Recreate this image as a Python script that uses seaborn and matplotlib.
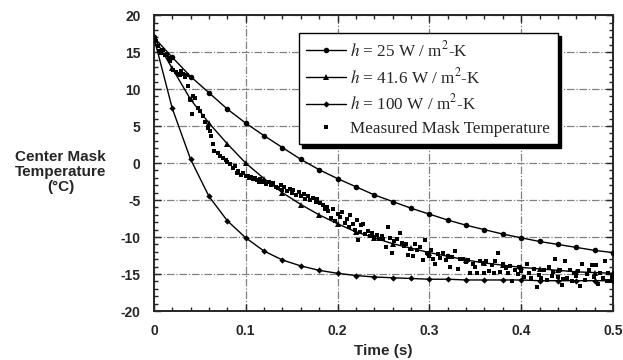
import numpy as np
import pandas as pd
import seaborn as sns
import matplotlib.pyplot as plt
from matplotlib.lines import Line2D
from matplotlib.ticker import MultipleLocator, FuncFormatter

# model time steps (s)
t_model = [0.00, 0.02, 0.04, 0.06, 0.08, 0.10, 0.12, 0.14, 0.16, 0.18,
           0.20, 0.22, 0.24, 0.26, 0.28, 0.30, 0.32, 0.34, 0.36, 0.38,
           0.40, 0.42, 0.44, 0.46, 0.48, 0.50]

h25 = [17.0, 14.3, 11.7, 9.5, 7.3, 5.4, 3.7, 2.1, 0.5, -0.9,
       -2.1, -3.2, -4.3, -5.2, -6.1, -6.9, -7.7, -8.4, -9.0, -9.6,
       -10.1, -10.6, -11.0, -11.4, -11.8, -12.1]
h41 = [17.0, 12.8, 8.6, 5.4, 2.6, 0.0, -2.1, -4.0, -5.6, -7.0,
       -8.2, -9.3, -10.1, -10.9, -11.5, -12.1, -12.6, -13.1, -13.5, -13.8,
       -14.1, -14.3, -14.5, -14.7, -14.8, -14.9]
h100 = [17.0, 7.4, 0.5, -4.5, -7.8, -10.1, -11.9, -13.1, -13.9, -14.5,
        -14.9, -15.2, -15.4, -15.5, -15.6, -15.7, -15.7, -15.8, -15.8, -15.8,
        -15.8, -15.9, -15.9, -15.9, -15.9, -15.9]

# measured mask temperature
meas_t = [0.002, 0.004, 0.006, 0.008, 0.010, 0.012, 0.014, 0.016, 0.018, 0.021,
          0.024, 0.026, 0.028, 0.030, 0.032, 0.034, 0.036, 0.037, 0.039, 0.041,
          0.043, 0.045, 0.048, 0.050, 0.053, 0.056, 0.059, 0.061, 0.062, 0.064,
          0.066, 0.070, 0.072, 0.075, 0.078, 0.080, 0.083, 0.086, 0.088, 0.090,
          0.092, 0.095, 0.097, 0.100, 0.102, 0.104, 0.106, 0.108, 0.110, 0.112,
          0.114, 0.116, 0.118, 0.120, 0.122, 0.125, 0.128, 0.130, 0.133, 0.135,
          0.138, 0.140, 0.142, 0.145, 0.148, 0.150, 0.152, 0.155, 0.158, 0.160,
          0.163, 0.165, 0.168, 0.170, 0.173, 0.176, 0.178, 0.181, 0.184, 0.186,
          0.188, 0.190, 0.193, 0.195, 0.197, 0.200, 0.203, 0.205, 0.208, 0.210,
          0.212, 0.214, 0.217, 0.219, 0.221, 0.222, 0.224, 0.226, 0.228, 0.230,
          0.233, 0.235, 0.238, 0.240, 0.243, 0.245, 0.248, 0.250, 0.253, 0.255,
          0.257, 0.259, 0.262, 0.265, 0.268, 0.270, 0.272, 0.275, 0.277, 0.279,
          0.282, 0.284, 0.287, 0.290, 0.293, 0.295, 0.297, 0.300, 0.302, 0.304,
          0.306, 0.309, 0.312, 0.315, 0.318, 0.320, 0.322, 0.325, 0.328, 0.331,
          0.333, 0.337, 0.340, 0.342, 0.344, 0.347, 0.350, 0.352, 0.355, 0.358,
          0.360, 0.362, 0.365, 0.368, 0.370, 0.372, 0.375, 0.377, 0.380, 0.383,
          0.386, 0.388, 0.390, 0.393, 0.396, 0.398, 0.400, 0.403, 0.406, 0.408,
          0.411, 0.414, 0.417, 0.419, 0.422, 0.425, 0.428, 0.430, 0.433, 0.435,
          0.437, 0.440, 0.442, 0.444, 0.446, 0.448, 0.450, 0.453, 0.455, 0.457,
          0.460, 0.462, 0.464, 0.466, 0.469, 0.472, 0.474, 0.477, 0.479, 0.481,
          0.484, 0.486, 0.489, 0.491, 0.493, 0.495, 0.497, 0.499]
meas_T = [16.5, 15.8, 15.2, 14.9, 15.3, 14.6, 14.8, 14.2, 13.8, 12.6,
          12.3, 12.0, 11.9, 12.4, 12.1, 11.7, 11.9, 10.4, 8.7, 6.6,
          9.1, 8.8, 7.4, 7.1, 6.3, 5.6, 4.8, 4.3, 3.6, 2.6,
          1.6, 1.3, 1.0, 0.7, 0.4, 0.1, -0.1, -0.6, -0.4, -1.3,
          -1.1, -1.6, -1.4, -1.8, -1.7, -2.0, -1.9, -2.2, -2.0, -2.3,
          -2.5, -2.2, -2.6, -2.4, -2.8, -2.6, -3.0, -2.7, -3.2, -3.4,
          -3.0, -3.6, -3.3, -3.8, -3.5, -4.0, -3.7, -4.3, -3.9, -4.5,
          -4.2, -4.8, -4.4, -5.0, -4.7, -5.2, -4.9, -5.4, -5.6, -6.2,
          -5.9, -6.5, -7.4, -6.2, -7.8, -6.9, -7.3, -6.6, -8.1, -7.5,
          -8.6, -7.0, -8.2, -9.0, -7.7, -10.4, -9.3, -8.4, -8.3, -9.6,
          -9.2, -9.8, -9.4, -10.0, -9.7, -10.2, -9.9, -10.3, -11.4, -8.6,
          -10.1, -12.2, -10.5, -10.2, -9.5, -10.8, -11.2, -10.9, -12.4, -11.6,
          -12.5, -11.0, -11.8, -11.3, -13.1, -10.4, -12.1, -12.6, -11.8, -12.9,
          -13.6, -12.3, -12.8, -12.2, -13.1, -12.5, -14.0, -12.7, -11.9, -14.3,
          -13.0, -12.9, -13.4, -13.1, -14.8, -13.6, -14.0, -14.8, -13.2, -13.5,
          -14.8, -13.3, -14.6, -13.8, -14.9, -13.2, -12.2, -14.7, -13.6, -14.2,
          -14.9, -13.9, -16.0, -14.4, -15.0, -14.1, -14.6, -15.4, -13.6, -14.8,
          -15.6, -14.3, -16.7, -15.1, -15.6, -14.5, -15.8, -14.0, -15.3, -14.7,
          -13.0, -15.4, -14.5, -16.5, -15.7, -13.3, -15.6, -14.4, -15.9, -14.9,
          -15.3, -14.6, -16.6, -13.6, -15.8, -15.0, -14.4, -13.8, -15.4, -13.8,
          -16.4, -14.8, -15.6, -13.3, -15.9, -14.9, -16.0, -15.4]

labels = [r"$h$ = 25 W / m$^{2}$-K",
          r"$h$ = 41.6 W / m$^{2}$-K",
          r"$h$ = 100 W / m$^{2}$-K",
          "Measured Mask Temperature"]

sns.set_style("ticks")
plt.rcParams["font.family"] = ["Liberation Sans", "DejaVu Sans"]
plt.rcParams["mathtext.fontset"] = "stix"
plt.rcParams["axes.unicode_minus"] = False

fig = plt.figure(figsize=(6.23, 3.6), dpi=100)
ax = fig.add_axes([0.247, 0.136, 0.737, 0.822])

ax.grid(True, which="major", color="#808080", linewidth=0.9,
        linestyle=(0, (6, 1.5, 1, 1.5)))

sns.lineplot(x=t_model, y=h25, ax=ax, color="k", lw=1.0, marker="o",
             markersize=4, markeredgewidth=0, zorder=3)
sns.lineplot(x=t_model, y=h41, ax=ax, color="k", lw=1.0, marker="^",
             markersize=4.5, markeredgewidth=0, zorder=3)
sns.lineplot(x=t_model, y=h100, ax=ax, color="k", lw=1.0, marker="D",
             markersize=3.2, markeredgewidth=0, zorder=3)
meas = pd.DataFrame({"t": meas_t, "T": meas_T})
sns.scatterplot(data=meas, x="t", y="T", ax=ax, color="k", marker="s",
                s=5, linewidth=0, zorder=4)

ax.set_xlim(0, 0.5)
ax.set_ylim(-20, 20)
ax.xaxis.set_major_locator(MultipleLocator(0.1))
ax.xaxis.set_minor_locator(MultipleLocator(0.02))
ax.yaxis.set_major_locator(MultipleLocator(5))
ax.yaxis.set_minor_locator(MultipleLocator(1))
ax.xaxis.set_major_formatter(FuncFormatter(lambda v, p: "0" if abs(v) < 1e-9 else f"{v:g}"))
ax.tick_params(which="both", direction="in", top=True, right=True, width=1.0)
ax.tick_params(which="major", length=5, labelsize=10)
ax.tick_params(axis="x", which="major", pad=9.5)
ax.tick_params(axis="y", which="major", pad=9.5)
ax.tick_params(which="minor", length=3)
for lbl in ax.get_xticklabels() + ax.get_yticklabels():
    lbl.set_fontweight("bold")
for sp in ax.spines.values():
    sp.set_linewidth(1.4)

ax.set_xlabel("Time (s)", fontsize=11, fontweight="bold", labelpad=4)
ax.set_ylabel("Center Mask\nTemperature\n(°C)", fontsize=11, fontweight="bold",
              rotation=0, ha="center", va="center", linespacing=1.05)
ax.yaxis.set_label_coords(-0.203, 0.47)

handles = [Line2D([], [], color="k", lw=1.0, marker="o", markersize=4, markeredgewidth=0),
           Line2D([], [], color="k", lw=1.0, marker="^", markersize=4.5, markeredgewidth=0),
           Line2D([], [], color="k", lw=1.0, marker="D", markersize=3.2, markeredgewidth=0),
           Line2D([], [], color="k", lw=0, marker="s", markersize=2.2, markeredgewidth=0)]
leg = ax.legend(handles, labels, loc="upper left", bbox_to_anchor=(0.297, 0.97),
                frameon=True, fancybox=False, numpoints=1, handlelength=2.3,
                handletextpad=0.25, labelspacing=0.4, borderpad=0.45,
                prop={"family": "Liberation Serif", "size": 12.3},
                shadow={"color": "k", "alpha": 1.0, "ox": 2.5, "oy": -2.5})
leg.get_frame().set_edgecolor("k")
leg.get_frame().set_linewidth(1.0)
leg.set_zorder(5)

fig.savefig("out.png", dpi=100)
